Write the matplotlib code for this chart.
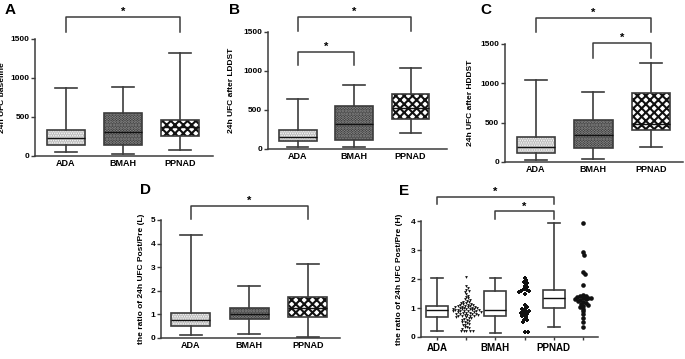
import numpy as np
import matplotlib
matplotlib.use("Agg")
import matplotlib.pyplot as plt

plt.rcParams['font.family'] = ['Liberation Sans', 'DejaVu Sans']
plt.rcParams['font.weight'] = 'bold'
plt.rcParams['hatch.linewidth'] = 1.5

groups = ['ADA', 'BMAH', 'PPNAD']

# five-number summaries: low whisker, q1, median, q3, high whisker
a_low = [50, 30, 75];      a_q1 = [135, 140, 255]; a_med = [225, 305, 375]
a_q3 = [330, 555, 455];    a_high = [878, 885, 1315]

b_low = [20, 20, 200];     b_q1 = [100, 118, 385]; b_med = [158, 320, 520]
b_q3 = [248, 550, 708];    b_high = [645, 820, 1040]

c_low = [25, 32, 185];     c_q1 = [118, 177, 400]; c_med = [194, 345, 485]
c_q3 = [315, 530, 872];    c_high = [1042, 885, 1252]

d_low = [0.13, 0.15, 0.06]; d_q1 = [0.50, 0.80, 0.89]; d_med = [0.76, 1.00, 1.25]
d_q3 = [1.07, 1.25, 1.72];  d_high = [4.37, 2.19, 3.14]

e_low = [0.21, 0.15, 0.34]; e_q1 = [0.69, 0.73, 0.99]; e_med = [0.92, 0.94, 1.33]
e_q3 = [1.07, 1.58, 1.62];  e_high = [2.03, 2.03, 3.94]

# individual points of panel E
ada_pts = [2.07, 1.76, 1.70, 1.62, 1.58, 1.55, 1.48, 1.42, 1.38, 1.33, 1.30, 1.28, 1.25,
           1.22, 1.20, 1.18, 1.17, 1.15, 1.13, 1.12, 1.10, 1.09, 1.08, 1.07, 1.06, 1.05,
           1.04, 1.03, 1.02, 1.01, 1.00, 1.00, 0.99, 0.98, 0.97, 0.96, 0.95, 0.95, 0.94,
           0.93, 0.92, 0.92, 0.91, 0.90, 0.89, 0.88, 0.88, 0.87, 0.86, 0.85, 0.84, 0.83,
           0.82, 0.81, 0.80, 0.79, 0.78, 0.77, 0.76, 0.75, 0.74, 0.73, 0.72, 0.71, 0.70,
           0.68, 0.66, 0.64, 0.62, 0.60, 0.58, 0.55, 0.52, 0.50, 0.48, 0.45, 0.42, 0.40,
           0.36, 0.33, 0.30, 0.28, 0.22, 0.22, 0.21, 0.21, 0.20]
bmah_pts = [2.05, 1.97, 1.90, 1.85, 1.75, 1.72, 1.65, 1.62, 1.60, 1.58, 1.55, 1.50, 1.10,
            1.05, 0.98, 0.95, 0.90, 0.88, 0.86, 0.82, 0.80, 0.76, 0.72, 0.68, 0.60, 0.57,
            0.52, 0.17, 0.17]
ppnad_pts = [3.93, 2.93, 2.83, 2.25, 2.18, 1.78, 1.45, 1.42, 1.40, 1.38, 1.36, 1.35, 1.34,
             1.32, 1.30, 1.28, 1.25, 1.20, 1.17, 1.13, 1.10, 1.08, 1.03, 0.98, 0.88, 0.78,
             0.66, 0.52, 0.33]

LC = '#3c3c3c'
# fill, hatch colour, hatch per group
fills = [('white', '#b4b4b4', '.......'), ('#262626', '#9a9a9a', '......'),
         ('white', '#111111', 'xxxx')]


def style_axes(ax, ylim, yticks, ylabel, labelx, xlim):
    for s in ['top', 'right']:
        ax.spines[s].set_visible(False)
    for s in ['left', 'bottom']:
        ax.spines[s].set_color(LC)
        ax.spines[s].set_linewidth(1.1)
    ax.set_ylim(*ylim)
    ax.set_xlim(*xlim)
    ax.set_yticks(yticks)
    ax.tick_params(axis='y', length=3, width=1, color=LC, labelsize=6, pad=1)
    ax.tick_params(axis='x', length=0, labelsize=6.5, pad=2)
    ax.set_ylabel(ylabel, fontsize=6, fontweight='bold')
    ax.yaxis.set_label_coords(labelx, 0.5)


def boxes(ax, low, q1, med, q3, high, pos, patterned=True, width=0.67, capw=0.38):
    stats = []
    for i in range(len(pos)):
        stats.append(dict(whislo=low[i], q1=q1[i], med=med[i], q3=q3[i], whishi=high[i], fliers=[]))
    if patterned:
        for i, p in enumerate(pos):
            fc, hc, h = fills[i]
            ax.bar(p, q3[i] - q1[i], bottom=q1[i], width=width, color=fc, edgecolor=hc,
                   hatch=h, linewidth=0, zorder=1)
    ax.bxp(stats, positions=pos, widths=width, capwidths=capw, showfliers=False,
           patch_artist=True,
           boxprops=dict(facecolor='none', edgecolor=LC, linewidth=1.2),
           whiskerprops=dict(color=LC, linewidth=1.2),
           capprops=dict(color=LC, linewidth=1.2),
           medianprops=dict(color='#111111', linewidth=1.0), manage_ticks=False)


def bracket(ax, x0, x1, y, ylegs):
    ax.plot([x0, x0, x1, x1], [ylegs, y, y, ylegs], color=LC, lw=1.1, clip_on=False)
    ax.text((x0 + x1) / 2, y, '*', ha='center', va='bottom', fontsize=8, fontweight='bold')


def swarm(ax, xc, vals, d_px):
    # simple beeswarm layout in pixel space
    tr = ax.transData
    placed = []
    xs = []
    for v in vals:
        x0, y0 = tr.transform((xc, v))
        cands = [0.0]
        for px, py in placed:
            dy = y0 - py
            if abs(dy) < d_px:
                dx = np.sqrt(d_px ** 2 - dy ** 2)
                cands += [px + dx, px - dx]
        cands.sort(key=abs)
        for c in cands:
            if all((c - px) ** 2 + (y0 - py) ** 2 >= d_px ** 2 - 1e-6 for px, py in placed):
                placed.append((c, y0))
                break
        xs.append(tr.inverted().transform((x0 + placed[-1][0], y0))[0])
    return xs


fig = plt.figure(figsize=(6.85, 3.59), dpi=100)

pos3 = [0, 1, 2]

# A
axA = fig.add_axes([0.0511, 0.5655, 0.260, 0.3259])
boxes(axA, a_low, a_q1, a_med, a_q3, a_high, pos3)
style_axes(axA, (0, 1500), [0, 500, 1000, 1500], '24h UFC baseline', -0.163, (-0.54, 2.58))
axA.set_xticks(pos3, groups)
bracket(axA, 0, 2, 1782, 1590)

# B
axB = fig.add_axes([0.391, 0.585, 0.261, 0.326])
boxes(axB, b_low, b_q1, b_med, b_q3, b_high, pos3)
style_axes(axB, (0, 1500), [0, 500, 1000, 1500], '24h UFC after LDDST', -0.184, (-0.53, 2.64))
axB.set_xticks(pos3, groups)
bracket(axB, 0, 2, 1692, 1513)
bracket(axB, 0, 1, 1244, 1077)

# C
axC = fig.add_axes([0.737, 0.549, 0.260, 0.329])
boxes(axC, c_low, c_q1, c_med, c_q3, c_high, pos3)
style_axes(axC, (0, 1500), [0, 500, 1000, 1500], '24h UFC after HDDST', -0.174, (-0.54, 2.56))
axC.set_xticks(pos3, groups)
bracket(axC, 0, 2, 1831, 1653)
bracket(axC, 1, 2, 1513, 1322)

# D
axD = fig.add_axes([0.235, 0.0585, 0.261, 0.329])
boxes(axD, d_low, d_q1, d_med, d_q3, d_high, pos3)
style_axes(axD, (0, 5), [0, 1, 2, 3, 4, 5], 'the ratio of 24h UFC Post/Pre (L)', -0.089, (-0.51, 2.55))
axD.set_xticks(pos3, groups)
bracket(axD, 0, 2, 5.59, 5.04)

# E
axE = fig.add_axes([0.6146, 0.0613, 0.258, 0.323])
style_axes(axE, (0, 4), [0, 1, 2, 3, 4], 'the ratio of 24h UFC Post/Pre (H)', -0.10, (-0.55, 5.51))
boxes(axE, e_low, e_q1, e_med, e_q3, e_high, [0, 2, 4], patterned=False, width=0.75, capw=0.4)
axE.set_xticks([0, 1, 2, 3, 4, 5], ['ADA', '', 'BMAH', '', 'PPNAD', ''])
axE.tick_params(axis='x', length=2.5, width=1, color=LC, labelsize=7)
bracket(axE, 0, 4, 4.83, 4.6)
bracket(axE, 2, 4, 4.33, 4.08)
axE.scatter(swarm(axE, 1, ada_pts, 2.6), ada_pts, marker='v', s=4, color='#111111', linewidths=0, zorder=3)
axE.scatter(swarm(axE, 3, bmah_pts, 3.0), bmah_pts, marker='P', s=6, color='#111111', linewidths=0, zorder=3)
axE.scatter(swarm(axE, 5, ppnad_pts, 3.0), ppnad_pts, marker='o', s=11, color='#111111', linewidths=0, zorder=3)

for lab, x, y in [('A', 0.0146, 0.972), ('B', 0.343, 0.972), ('C', 0.709, 0.972),
                  ('D', 0.213, 0.471), ('E', 0.590, 0.468)]:
    fig.text(x, y, lab, fontsize=11, fontweight='bold', ha='center', va='center')

fig.savefig('out.png', dpi=100)
